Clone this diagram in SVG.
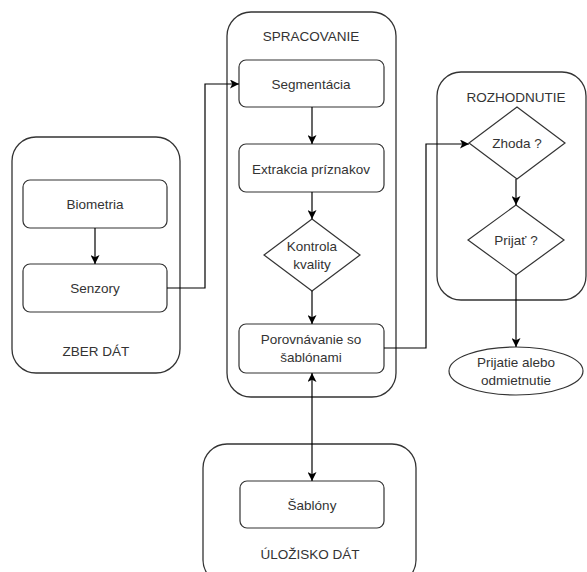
<svg xmlns="http://www.w3.org/2000/svg" width="587" height="572" viewBox="0 0 587 572">
<defs>
<marker id="arr" viewBox="0 0 10 10" refX="10" refY="5" markerWidth="9" markerHeight="9" markerUnits="userSpaceOnUse" orient="auto-start-reverse">
<path d="M0,0 L10,5 L0,10 L2.5,5 Z" fill="#000"/>
</marker>
</defs>
<style>
.c{fill:#fff;stroke:#333;stroke-width:1.3}
.n{fill:#fff;stroke:#333;stroke-width:1.2}
text{font-family:"Liberation Sans",Arial,sans-serif;font-size:13.5px;fill:#333;text-anchor:middle;dominant-baseline:central}
.e{fill:none;stroke:#000;stroke-width:1.2}
</style>
<rect width="587" height="572" fill="#fff"/>
<g id="zber">
<rect class="c" x="12" y="137" width="168" height="236" rx="24"/>
<text x="96" y="351">ZBER DÁT</text>
</g>
<g id="spracovanie">
<rect class="c" x="227" y="12" width="169" height="385" rx="24"/>
<text x="311" y="36">SPRACOVANIE</text>
</g>
<g id="rozhodnutie">
<rect class="c" x="437" y="72" width="149" height="228" rx="24"/>
<text x="516" y="97">ROZHODNUTIE</text>
</g>
<g id="ulozisko">
<rect class="c" x="203" y="444" width="213" height="140" rx="24"/>
<text x="310" y="554">ÚLOŽISKO DÁT</text>
</g>
<g id="biometria">
<rect class="n" x="23" y="180" width="144" height="48" rx="7"/>
<text x="95" y="204">Biometria</text>
</g>
<g id="senzory">
<rect class="n" x="23" y="264" width="144" height="48" rx="7"/>
<text x="95" y="288">Senzory</text>
</g>
<g id="segmentacia">
<rect class="n" x="239" y="60" width="145" height="47" rx="7"/>
<text x="311" y="84">Segmentácia</text>
</g>
<g id="extrakcia">
<rect class="n" x="239" y="144" width="145" height="48" rx="7"/>
<text x="311" y="169">Extrakcia príznakov</text>
</g>
<g id="kontrola">
<path class="n" d="M312,219 L360,255 L312,291 L264,255 Z"/>
<text x="312" y="246">Kontrola</text>
<text x="312" y="264">kvality</text>
</g>
<g id="porovnavanie">
<rect class="n" x="239" y="324" width="145" height="49" rx="7"/>
<text x="311" y="339">Porovnávanie so</text>
<text x="311" y="357">šablónami</text>
</g>
<g id="sablony">
<rect class="n" x="240" y="481" width="144" height="47" rx="7"/>
<text x="312" y="505">Šablóny</text>
</g>
<g id="zhoda">
<path class="n" d="M517,107 L565,143 L517,179 L469,143 Z"/>
<text x="517" y="143">Zhoda ?</text>
</g>
<g id="prijat">
<path class="n" d="M516,205 L564,240 L516,275 L468,240 Z"/>
<text x="516" y="240">Prijať ?</text>
</g>
<g id="vysledok">
<ellipse class="n" cx="516" cy="371" rx="67" ry="24"/>
<text x="516" y="362">Prijatie alebo</text>
<text x="516" y="380">odmietnutie</text>
</g>
<g id="connectors">
<path class="e" d="M95,228 L95,264" marker-end="url(#arr)"/>
<path class="e" d="M167,288 L205,288 L205,84 L239,84" marker-end="url(#arr)"/>
<path class="e" d="M312,107 L312,144" marker-end="url(#arr)"/>
<path class="e" d="M312,192 L312,219" marker-end="url(#arr)"/>
<path class="e" d="M312,291 L312,324" marker-end="url(#arr)"/>
<path class="e" d="M312,373 L312,481" marker-start="url(#arr)" marker-end="url(#arr)"/>
<path class="e" d="M384,348 L426,348 L426,144 L469,144" marker-end="url(#arr)"/>
<path class="e" d="M516,179 L516,205" marker-end="url(#arr)"/>
<path class="e" d="M516,275 L516,347" marker-end="url(#arr)"/>
</g>
</svg>
